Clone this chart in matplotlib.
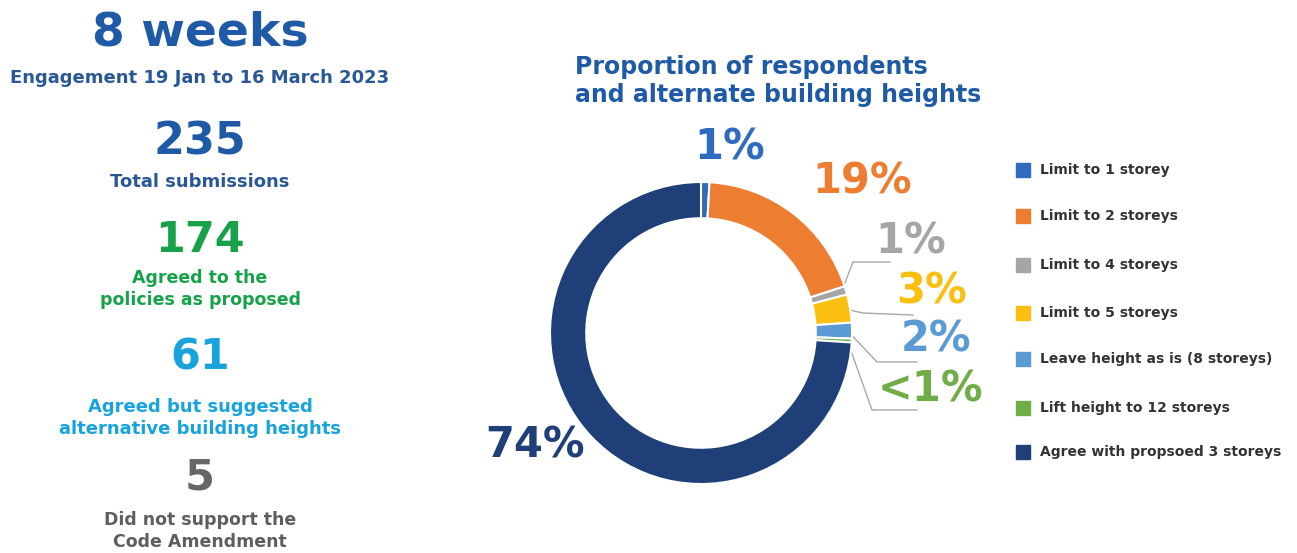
import numpy as np
import matplotlib
matplotlib.use("Agg")
import matplotlib.pyplot as plt

# ---------------- data ----------------
categories = ["Limit to 1 storey", "Limit to 2 storeys", "Limit to 4 storeys",
              "Limit to 5 storeys", "Leave height as is (8 storeys)",
              "Lift height to 12 storeys", "Agree with propsoed 3 storeys"]
values = [0.9, 19.1, 0.9, 3.0, 1.7, 0.4, 74.0]
pct_labels = ["1%", "19%", "1%", "3%", "2%", "<1%", "74%"]
colors = ["#2f6bbf", "#ed7d31", "#a5a5a5", "#fbbf12", "#5b9bd5", "#70ad47", "#1f3f78"]

stat_numbers = ["8 weeks", "235", "174", "61", "5"]
stat_captions = ["Engagement 19 Jan to 16 March 2023", "Total submissions",
                 "Agreed to the\npolicies as proposed",
                 "Agreed but suggested\nalternative building heights",
                 "Did not support the\nCode Amendment"]
stat_colors = ["#1f5aa6", "#1f5aa6", "#17a24a", "#18a3dc", "#666666"]
caption_colors = ["#2a5896", "#2a5896", "#17a24a", "#18a3dc", "#5e5e5e"]

title = "Proportion of respondents\nand alternate building heights"

# ---------------- figure ----------------
W, H = 1297, 553
fig = plt.figure(figsize=(W / 100, H / 100), dpi=100)
fig.patch.set_facecolor("white")

ax = fig.add_axes([0, 0, 1, 1])
ax.set_xlim(0, W)
ax.set_ylim(H, 0)
ax.axis("off")

FONT = "DejaVu Sans"

# left panel
num_y = [33, 142, 240, 358, 478]
num_size = [34, 32, 31, 31, 31]
cap_y = [78, 182, 289, 418, 531]
cap_size = [13, 13, 12.5, 13, 12.5]
for i in range(len(stat_numbers)):
    ax.text(200, num_y[i], stat_numbers[i], ha="center", va="center",
            fontsize=num_size[i], fontweight="bold", color=stat_colors[i], family=FONT)
    ax.text(200, cap_y[i], stat_captions[i], ha="center", va="center",
            fontsize=cap_size[i], fontweight="bold", color=caption_colors[i],
            family=FONT, linespacing=1.35)

# title
ax.text(575, 81, title, ha="left", va="center", fontsize=17, fontweight="bold",
        color="#1f5aa6", family=FONT, linespacing=1.25)

# legend
leg_y = [170, 216, 265, 313, 359, 408, 452]
for i, cat in enumerate(categories):
    ax.add_patch(plt.Rectangle((1016, leg_y[i] - 7), 14, 14, color=colors[i]))
    ax.text(1040, leg_y[i], cat, ha="left", va="center", fontsize=10,
            fontweight="bold", color="#333333", family=FONT)

# ---------------- donut ----------------
cx, cy, R = 701, 333, 151
pax = fig.add_axes([(cx - R) / W, (H - cy - R) / H, 2 * R / W, 2 * R / H])
wedges, _ = pax.pie(values, colors=colors, startangle=90, counterclock=False,
                    radius=1.0, wedgeprops=dict(width=0.24, edgecolor="white", linewidth=1.5))
pax.set_xlim(-1, 1)
pax.set_ylim(-1, 1)
pax.set_aspect("auto")
pax.axis("off")

def to_data(px, py):
    return (px - cx) / R, (cy - py) / R

# percentage labels (pixel positions of centers)
label_pos = [(730, 148), (862, 182), (911, 241), (932, 292), (936, 340), (930, 390), (535, 445)]
for i, lab in enumerate(pct_labels):
    x, y = to_data(*label_pos[i])
    pax.text(x, y, lab, ha="center", va="center", fontsize=30, fontweight="bold",
             color=colors[i], family=FONT, clip_on=False)

# leader lines for small slices
elbows = {2: [(853, 262), (890, 262)],
          3: [(863, 313), (913, 315)],
          4: [(877, 362), (917, 362)],
          5: [(872, 410), (917, 410)]}
for i, pts in elbows.items():
    w = wedges[i]
    th = np.deg2rad((w.theta1 + w.theta2) / 2)
    sx, sy = 0.97 * np.cos(th), 0.97 * np.sin(th)
    xs = [sx] + [to_data(*p)[0] for p in pts]
    ys = [sy] + [to_data(*p)[1] for p in pts]
    pax.plot(xs, ys, color="#a8a8a8", lw=1.0, clip_on=False, zorder=0)

fig.savefig("out.png", dpi=100, facecolor="white")
